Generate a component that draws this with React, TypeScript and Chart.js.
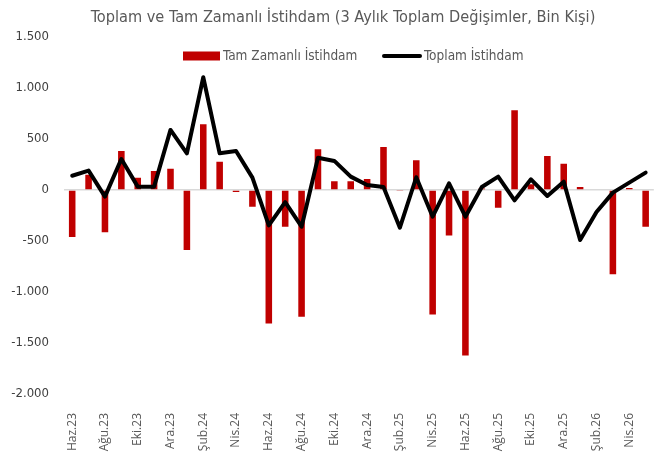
import React, { useEffect, useRef } from "react";
import { Chart, registerables } from "chart.js";

Chart.register(...registerables);

const categories = [
  "Haz.23", "Tem.23", "Ağu.23", "Eyl.23", "Eki.23", "Kas.23", "Ara.23",
  "Oca.24", "Şub.24", "Mar.24", "Nis.24", "May.24", "Haz.24", "Tem.24",
  "Ağu.24", "Eyl.24", "Eki.24", "Kas.24", "Ara.24", "Oca.25", "Şub.25",
  "Mar.25", "Nis.25", "May.25", "Haz.25", "Tem.25", "Ağu.25", "Eyl.25",
  "Eki.25", "Kas.25", "Ara.25", "Oca.26", "Şub.26", "Mar.26", "Nis.26", "May.26",
];

const fullTime = [
  -460, 150, -415, 383, 121, 186, 209, -589, 644, 278, -20, -163, -1310, -360,
  -1243, 399, 85, 85, 108, 422, -10, 291, -1220, -445, -1622, 15, -173, 782,
  56, 333, 258, 29, 8, -827, 20, -360,
];

const total = [
  140, 190, -65, 304, 33, 33, 589, 360, 1105, 360, 383, 121, -347, -118, -360,
  317, 285, 131, 49, 29, -370, 125, -262, 65, -262, 29, 131, -101, 105, -59,
  82, -490, -216, -26, 72, 170,
];

const yTicks = [-2000, -1500, -1000, -500, 0, 500, 1000, 1500];

const titleText = "Toplam ve Tam Zamanlı İstihdam (3 Aylık Toplam Değişimler, Bin Kişi)";
const barLabel = "Tam Zamanlı İstihdam";
const lineLabel = "Toplam İstihdam";

const NARROW = '"Liberation Sans Narrow", "DejaVu Sans Condensed", Roboto, sans-serif';
const TEXT = "#595959";
const RED = "#c00000";

function fmt(v: number): string {
  const s = Math.abs(v).toString().replace(/\B(?=(\d{3})+(?!\d))/g, ".");
  return (v < 0 ? "-" : "") + s;
}

const overlayPlugin = {
  id: "overlay",
  afterDraw(chart: any) {
    const ctx = chart.ctx as CanvasRenderingContext2D;
    ctx.save();
    // title
    ctx.fillStyle = TEXT;
    ctx.font = `16.2px ${NARROW}`;
    ctx.textAlign = "center";
    ctx.textBaseline = "middle";
    ctx.fillText(titleText, 343, 18);
    // legend
    const ly = 56;
    ctx.fillStyle = RED;
    ctx.fillRect(183, ly - 4.5, 37, 9);
    ctx.font = `13.5px ${NARROW}`;
    ctx.textAlign = "left";
    ctx.fillStyle = TEXT;
    ctx.fillText(barLabel, 223, ly);
    ctx.strokeStyle = "#000";
    ctx.lineWidth = 4;
    ctx.lineCap = "round";
    ctx.beginPath();
    ctx.moveTo(384, ly);
    ctx.lineTo(420, ly);
    ctx.stroke();
    ctx.fillText(lineLabel, 424, ly);
    ctx.restore();
  },
};

export default function App() {
  const ref = useRef<HTMLCanvasElement | null>(null);
  useEffect(() => {
    document.body.style.margin = "0";
    const canvas = ref.current!;
    const chart = new Chart(canvas, {
      type: "bar",
      data: {
        labels: categories,
        datasets: [
          {
            type: "line",
            label: lineLabel,
            data: total,
            borderColor: "#000",
            backgroundColor: "#000",
            borderWidth: 4,
            pointRadius: 0,
            tension: 0,
            borderJoinStyle: "round",
            borderCapStyle: "round",
            order: 0,
          } as any,
          {
            type: "bar",
            label: barLabel,
            data: fullTime,
            backgroundColor: RED,
            barPercentage: 0.4,
            categoryPercentage: 1.0,
            order: 1,
          },
        ],
      },
      options: {
        responsive: false,
        animation: false,
        devicePixelRatio: 1,
        layout: { padding: { top: 37, right: 8, left: 0, bottom: 0 } },
        plugins: {
          legend: { display: false },
          title: { display: false },
          tooltip: { enabled: false },
        },
        scales: {
          x: {
            grid: { display: false, drawTicks: false },
            border: { display: false },
            ticks: {
              autoSkip: false,
              maxRotation: 90,
              minRotation: 90,
              padding: 19,
              color: TEXT,
              font: { family: '"Open Sans", sans-serif', size: 12 },
              callback: (_v: any, i: number) => (i % 2 === 0 ? categories[i] : null),
            },
            afterFit: (s: any) => {
              s.height = 63;
            },
          },
          y: {
            min: -2000,
            max: 1500,
            afterBuildTicks: (s: any) => {
              s.ticks = yTicks.map((v) => ({ value: v }));
            },
            grid: {
              drawTicks: false,
              color: (c: any) => (c.tick && c.tick.value === 0 ? "#d9d9d9" : "rgba(0,0,0,0)"),
              lineWidth: 1.5,
            },
            border: { display: false },
            ticks: {
              padding: 15,
              color: "#404040",
              font: { family: NARROW, size: 13 },
              callback: (v: any) => fmt(Number(v)),
            },
            afterFit: (s: any) => {
              s.width = 64;
            },
          },
        },
      },
      plugins: [overlayPlugin],
    });
    return () => chart.destroy();
  }, []);
  return (
    <div style={{ width: 663, height: 457, background: "#fff" }}>
      <canvas ref={ref} width={663} height={457} style={{ display: "block" }} />
    </div>
  );
}
